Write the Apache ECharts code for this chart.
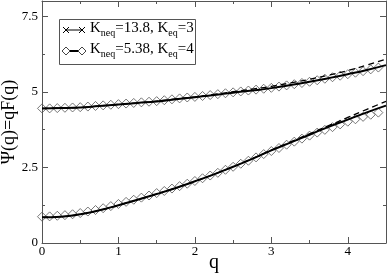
<!DOCTYPE html>
<html><head><meta charset="utf-8">
<script src="https://cdn.jsdelivr.net/npm/echarts@6/dist/echarts.min.js"></script>
<style>html,body{margin:0;padding:0;background:#fff}#c{width:388px;height:273px}</style>
</head><body><div id="c"></div>
<script>
// q grid for the curves
var qLine = [0,0.25,0.5,0.75,1,1.25,1.5,1.75,2,2.25,2.5,2.75,3,3.25,3.5,3.75,4,4.25,4.5];
// upper family (K_neq=13.8, K_eq=3)
var upperSolid  = [4.45,4.46,4.48,4.53,4.58,4.63,4.68,4.75,4.82,4.89,4.97,5.04,5.12,5.22,5.33,5.45,5.58,5.72,5.88];
var upperDashed = [4.45,4.46,4.48,4.53,4.58,4.63,4.69,4.76,4.83,4.91,5.0,5.09,5.18,5.29,5.41,5.55,5.70,5.88,6.08];
// lower family (K_neq=5.38, K_eq=4)
var lowerSolid  = [0.85,0.87,0.95,1.08,1.25,1.43,1.62,1.82,2.04,2.27,2.52,2.78,3.06,3.32,3.58,3.84,4.08,4.32,4.54];
var lowerDashed = [0.85,0.87,0.95,1.08,1.25,1.43,1.62,1.82,2.04,2.27,2.52,2.79,3.07,3.34,3.61,3.88,4.15,4.42,4.68];
// simulation points
var qPts = [0,0.1,0.2,0.3,0.4,0.5,0.6,0.7,0.8,0.9,1.0,1.1,1.2,1.3,1.4,1.5,1.6,1.7,1.8,1.9,2.0,2.1,2.2,2.3,2.4,2.5,2.6,2.7,2.8,2.9,3.0,3.1,3.2,3.3,3.4,3.5,3.6,3.7,3.8,3.9,4.0,4.1,4.2,4.3,4.4];
var upperPts = [4.45,4.45,4.46,4.47,4.48,4.49,4.51,4.53,4.55,4.57,4.59,4.61,4.63,4.65,4.67,4.69,4.72,4.75,4.78,4.81,4.83,4.86,4.89,4.92,4.95,4.98,5.01,5.04,5.07,5.10,5.13,5.17,5.21,5.25,5.29,5.33,5.38,5.43,5.48,5.53,5.58,5.63,5.68,5.74,5.80];
var lowerPts = [0.87,0.88,0.90,0.92,0.95,0.99,1.04,1.09,1.15,1.22,1.29,1.36,1.43,1.50,1.57,1.65,1.72,1.80,1.88,1.96,2.05,2.14,2.23,2.32,2.42,2.52,2.62,2.72,2.83,2.94,3.04,3.14,3.25,3.35,3.45,3.55,3.65,3.74,3.83,3.92,4.01,4.09,4.17,4.24,4.31];
var xTicks = [0,1,2,3,4];
var yTicks = [0,2.5,5,7.5];
var legendTexts = [['K','neq','=13.8, K','eq','=3'],['K','neq','=5.38, K','eq','=4']];

function pairs(xs, ys){ return xs.map(function(x,i){return [x, ys[i]];}); }
var FONT = '"Liberation Serif", "Times New Roman", serif';
var axisCol = '#555';

function xAx(pos, show){
  return {type:'value', position:pos, min:0, max:4.5, interval:1,
    axisLine:{show:true, onZero:false, lineStyle:{color:axisCol,width:1}},
    axisTick:{show:true, inside:true, length:6, lineStyle:{color:axisCol}},
    minorTick:{show:true, splitNumber:2, length:3, lineStyle:{color:axisCol}},
    splitLine:{show:false}, minorSplitLine:{show:false},
    axisLabel:{show:show, color:'#000', fontFamily:FONT, fontSize:13, margin:2,
      formatter:function(v){return xTicks.indexOf(v)>=0 ? String(v) : '';}},
    name: show ? 'q' : '', nameLocation:'middle', nameGap:10, nameMoveOverlap:false,
    nameTextStyle:{color:'#000', fontFamily:FONT, fontSize:20, verticalAlign:'top'}};
}
function yAx(pos, show){
  return {type:'value', position:pos, min:0, max:8, interval:2.5,
    axisLine:{show:true, onZero:false, lineStyle:{color:axisCol,width:1}},
    axisTick:{show:true, inside:true, length:6, lineStyle:{color:axisCol}},
    minorTick:{show:true, splitNumber:2, length:3, lineStyle:{color:axisCol}},
    splitLine:{show:false}, minorSplitLine:{show:false},
    axisLabel:{show:show, color:'#000', fontFamily:FONT, fontSize:13, margin:4, showMaxLabel:false,
      formatter:function(v){return yTicks.indexOf(v)>=0 ? String(v) : '';}},
    name: show ? 'Ψ(q)=qF(q)' : '', nameLocation:'middle', nameGap:33, nameMoveOverlap:false,
    nameTextStyle:{color:'#000', fontFamily:FONT, fontSize:18, verticalAlign:'middle'}};
}

function lineS(data, dashed){
  return {type:'line', xAxisIndex:0, yAxisIndex:0, data:data, smooth:true, showSymbol:false, symbol:'none',
    lineStyle:{color:'#000', width: dashed?1.3:2, type: dashed?[6,4]:'solid'}, z: dashed?3:4, silent:true};
}
function ptsS(data){
  return {type:'scatter', xAxisIndex:0, yAxisIndex:0, data:data, symbol:'diamond', symbolSize:[9,9],
    itemStyle:{color:'rgba(0,0,0,0)', borderColor:'#555', borderWidth:1}, z:2, silent:true};
}

var rich = {a:{fontFamily:FONT, fontSize:15, color:'#000'},
            s:{fontFamily:FONT, fontSize:10, color:'#000', padding:[9,0,0,0]}};
function legendStr(p){ return '{a|'+p[0]+'}{s|'+p[1]+'}{a|'+p[2]+'}{s|'+p[3]+'}{a|'+p[4]+'}'; }

var chart = echarts.init(document.getElementById('c'), null, {renderer:'canvas'});
chart.setOption({
  animation:false,
  backgroundColor:'#fff',
  grid:{left:42, right:2, top:1, bottom:30, containLabel:false, outerBoundsMode:'none'},
  xAxis:[xAx('bottom', true), xAx('top', false)],
  yAxis:[yAx('left', true), yAx('right', false)],
  series:[
    ptsS(pairs(qPts, upperPts)),
    ptsS(pairs(qPts, lowerPts)),
    lineS(pairs(qLine, upperDashed), true),
    lineS(pairs(qLine, lowerDashed), true),
    lineS(pairs(qLine, upperSolid), false),
    lineS(pairs(qLine, lowerSolid), false)
  ],
  graphic:[
    {type:'rect', shape:{x:59.5, y:19.5, width:136, height:45}, style:{fill:'#fff', stroke:'#555', lineWidth:1}, z:10},
    {type:'line', shape:{x1:66, y1:30, x2:82, y2:30}, style:{stroke:'#000', lineWidth:1}, z:11},
    {type:'line', shape:{x1:63, y1:27, x2:69, y2:33}, style:{stroke:'#000', lineWidth:1}, z:11},
    {type:'line', shape:{x1:69, y1:27, x2:63, y2:33}, style:{stroke:'#000', lineWidth:1}, z:11},
    {type:'line', shape:{x1:79, y1:27, x2:85, y2:33}, style:{stroke:'#000', lineWidth:1}, z:11},
    {type:'line', shape:{x1:85, y1:27, x2:79, y2:33}, style:{stroke:'#000', lineWidth:1}, z:11},
    {type:'line', shape:{x1:66, y1:51, x2:82, y2:51}, style:{stroke:'#000', lineWidth:2}, z:11},
    {type:'polygon', shape:{points:[[62,51],[66,47],[70,51],[66,55]]}, style:{stroke:'#444', fill:'#fff', lineWidth:1}, z:12},
    {type:'polygon', shape:{points:[[78,51],[82,47],[86,51],[82,55]]}, style:{stroke:'#444', fill:'#fff', lineWidth:1}, z:12},
    {type:'text', left:90, top:21, style:{text:legendStr(legendTexts[0]), rich:rich}, z:11},
    {type:'text', left:90, top:42, style:{text:legendStr(legendTexts[1]), rich:rich}, z:11}
  ]
});
</script></body></html>
